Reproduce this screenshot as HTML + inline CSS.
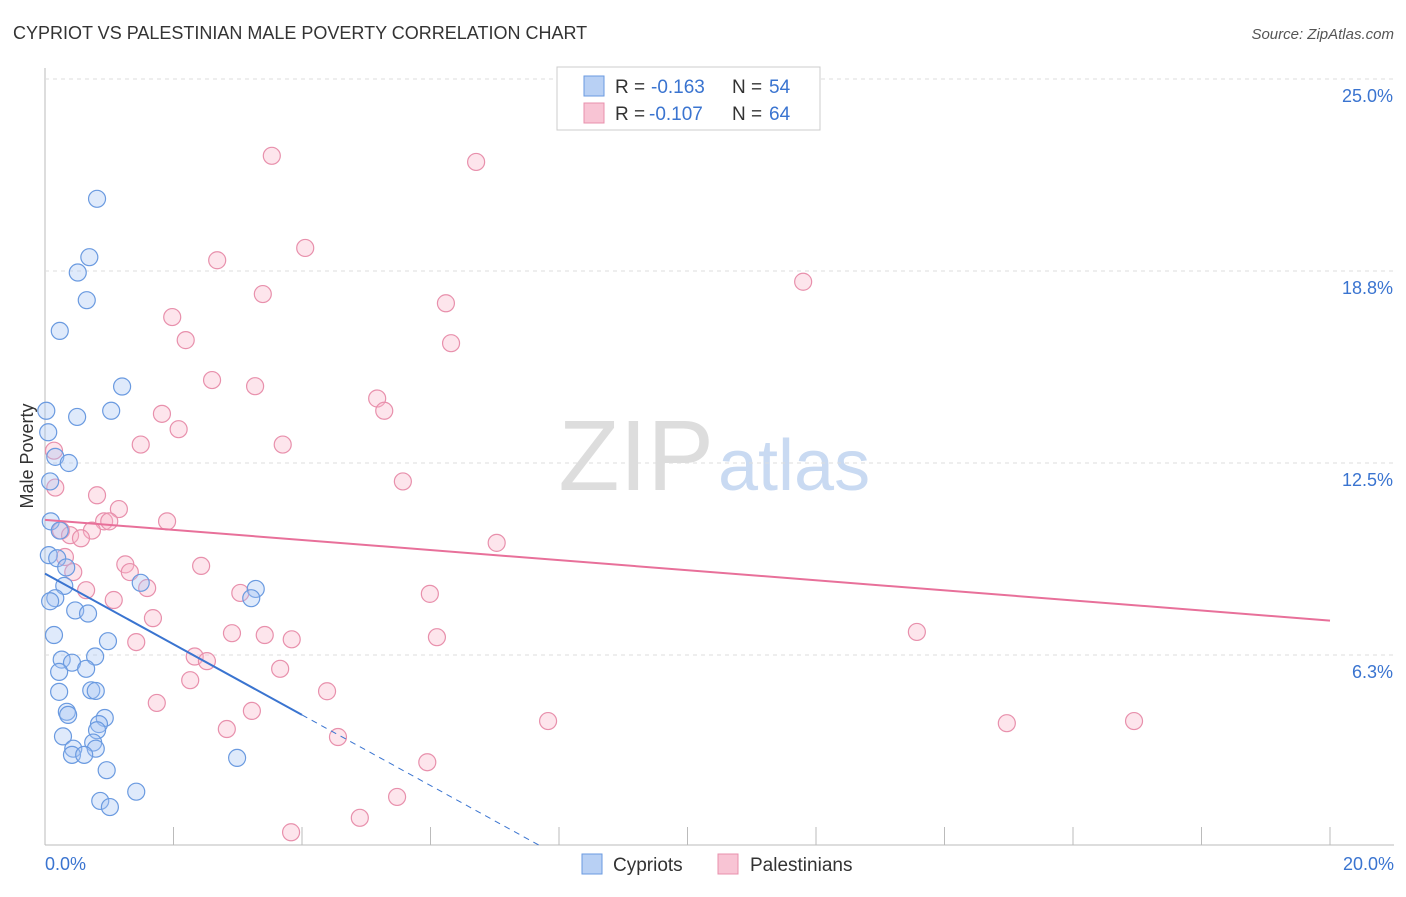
<!DOCTYPE html>
<html><head><meta charset="utf-8"><style>
body{margin:0;background:#fff;font-family:"Liberation Sans",sans-serif;}
svg text{font-family:"Liberation Sans",sans-serif;}
</style></head><body>
<svg id="c" width="1406" height="892" xmlns="http://www.w3.org/2000/svg">
<text x="13" y="39" font-size="18" fill="#333">CYPRIOT VS PALESTINIAN MALE POVERTY CORRELATION CHART</text>
<text x="1394" y="39" font-size="15" fill="#555" font-style="italic" text-anchor="end">Source: ZipAtlas.com</text>
<text x="714" y="490" font-size="100" fill="#ddd" text-anchor="end" font-family="Liberation Serif">ZIP</text>
<text x="718" y="490" font-size="72" fill="#c9daf2">atlas</text>
<g id="grid"></g><g id="pts"></g><g id="trend"></g>
<text x="33" y="456" font-size="18" fill="#333" text-anchor="middle" transform="rotate(-90 33 456)">Male Poverty</text>
<text x="45" y="870" font-size="18" fill="#3a74d0">0.0%</text>
<text x="1394" y="870" font-size="18" fill="#3a74d0" text-anchor="end">20.0%</text>
<g>
<rect x="557" y="67" width="263" height="63" fill="#fff" stroke="#ccc"/>
<rect x="584" y="76" width="20" height="20" fill="#b8d0f4" stroke="#6a9ae0"/>
<rect x="584" y="103" width="20" height="20" fill="#f8c4d4" stroke="#e890ac"/>
<text x="615" y="93" font-size="19" fill="#333">R =</text><text x="651" y="93" font-size="19" fill="#3a74d0">-0.163</text>
<text x="732" y="93" font-size="19" fill="#333">N =</text><text x="769" y="93" font-size="19" fill="#3a74d0">54</text>
<text x="615" y="120" font-size="19" fill="#333">R =</text><text x="649" y="120" font-size="19" fill="#3a74d0">-0.107</text>
<text x="732" y="120" font-size="19" fill="#333">N =</text><text x="769" y="120" font-size="19" fill="#3a74d0">64</text>
</g>
<g><rect x="582" y="854" width="20" height="20" fill="#b8d0f4" stroke="#6a9ae0"/><text x="613" y="871" font-size="19" fill="#333">Cypriots</text></g>
<g><rect x="718" y="854" width="20" height="20" fill="#f8c4d4" stroke="#e890ac"/><text x="750" y="871" font-size="19" fill="#333">Palestinians</text></g>
</svg>
<script>
const yTicks=[25.0,18.75,12.5,6.25];
const yTickLabels=["25.0%","18.8%","12.5%","6.3%"];
const cypX=[0.81,0.69,0.51,0.65,0.23,1.2,1.03,0.02,0.5,0.05,0.16,0.37,0.08,0.09,0.23,0.06,0.19,0.33,0.3,0.16,0.08,0.47,0.67,1.49,3.28,3.21,0.14,0.98,0.26,0.78,0.42,0.64,0.22,0.72,0.79,0.22,0.34,0.36,0.93,0.84,0.81,0.28,0.75,0.44,0.79,0.42,0.61,0.96,2.99,1.42,0.86,1.01];
const cypY=[21.1,19.2,18.7,17.8,16.8,14.99,14.2,14.2,14.0,13.5,12.7,12.5,11.9,10.6,10.3,9.5,9.4,9.1,8.5,8.1,8.0,7.7,7.6,8.6,8.4,8.1,6.9,6.7,6.1,6.2,6.0,5.8,5.7,5.1,5.08,5.05,4.4,4.3,4.2,4.0,3.8,3.6,3.4,3.2,3.2,3.0,3.0,2.5,2.9,1.8,1.5,1.3];
const palX=[3.53,6.71,4.05,2.68,11.8,3.39,6.24,1.98,2.19,6.32,2.6,3.27,5.17,5.28,1.82,2.08,1.49,3.7,5.57,0.14,0.16,0.81,1.15,1.9,0.92,1.0,0.25,0.73,0.39,0.56,7.03,0.31,1.25,2.43,0.44,1.32,0.64,1.59,3.04,5.99,1.07,1.68,2.91,3.42,3.84,6.1,13.57,1.42,2.33,2.52,3.66,2.26,4.39,1.74,3.22,2.83,7.83,14.97,16.95,4.56,5.95,5.48,4.9,3.83];
const palY=[22.5,22.3,19.5,19.1,18.4,18.0,17.7,17.25,16.5,16.4,15.2,15.0,14.6,14.2,14.1,13.6,13.1,13.1,11.9,12.9,11.7,11.45,11.0,10.6,10.6,10.6,10.3,10.3,10.15,10.05,9.9,9.44,9.2,9.15,8.95,8.95,8.36,8.43,8.27,8.24,8.04,7.45,6.96,6.9,6.76,6.83,7.0,6.67,6.2,6.05,5.8,5.43,5.07,4.69,4.43,3.84,4.1,4.03,4.1,3.58,2.76,1.63,0.95,0.48];
const NS="http://www.w3.org/2000/svg";
const X=v=>45+v/20*1285, Y=v=>847-v*30.72;
function mk(t,a,p){const e=document.createElementNS(NS,t);for(const k in a)e.setAttribute(k,a[k]);p.appendChild(e);return e;}
const g=document.getElementById('grid');
mk('line',{x1:45,y1:68,x2:45,y2:845,stroke:'#bbb'},g);
mk('line',{x1:45,y1:845,x2:1394,y2:845,stroke:'#bbb'},g);
for(let i=1;i<=10;i++){const l=mk('line',{x1:X(i*2),y1:827,x2:X(i*2),y2:845,stroke:'#bbb'},g);

}
yTicks.forEach((v,i)=>{const l=mk('line',{x1:45,y1:Y(v),x2:1394,y2:Y(v),stroke:'#ddd','stroke-dasharray':'4 4'},g);


const t=mk('text',{x:1393,y:Y(v)+23,'font-size':18,fill:'#3a74d0','text-anchor':'end'},g);t.textContent=yTickLabels[i];

});
const p=document.getElementById('pts');
palX.forEach((x,i)=>{const c=mk('circle',{cx:X(x),cy:Y(palY[i]),r:8.5,fill:'rgba(248,180,200,0.35)',stroke:'#e890ac','stroke-width':1.2},p);

});
cypX.forEach((x,i)=>{const c=mk('circle',{cx:X(x),cy:Y(cypY[i]),r:8.5,fill:'rgba(164,194,244,0.35)',stroke:'#6a9ae0','stroke-width':1.2},p);

});
const tr=document.getElementById('trend');
const cyA=8.9,cyB=-1.15,paA=10.65,paB=-0.164;
let l=mk('line',{x1:X(0),y1:Y(cyA),x2:X(4),y2:Y(cyA+cyB*4),stroke:'#3a74d0','stroke-width':2},tr);


l=mk('line',{x1:X(4),y1:Y(cyA+cyB*4),x2:X(7.74),y2:Y(0),stroke:'#3a74d0','stroke-width':1,'stroke-dasharray':'6 5'},tr);


l=mk('line',{x1:X(0),y1:Y(paA),x2:X(20),y2:Y(paA+paB*20),stroke:'#e8709a','stroke-width':2},tr);


</script>
</body></html>
